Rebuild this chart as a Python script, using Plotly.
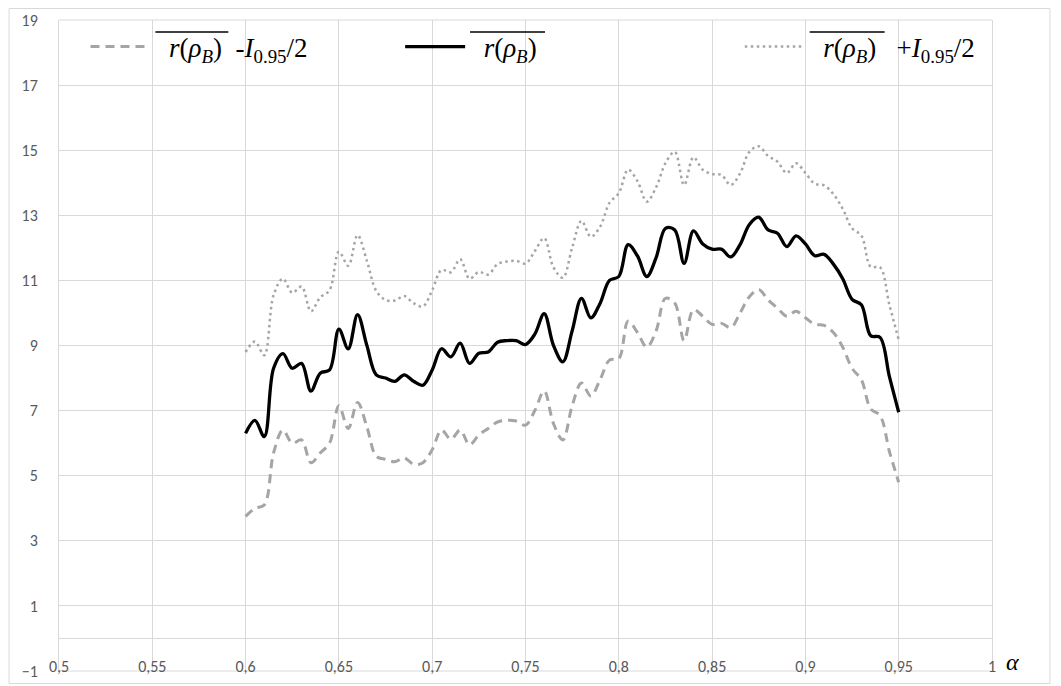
import plotly.graph_objects as go

# ---- data ----
alpha = [round(0.6 + 0.005 * i, 3) for i in range(71)]

mean_r = [6.30, 6.70, 6.20, 8.30, 8.75, 8.30, 8.45, 7.60, 8.15, 8.25,
          9.50, 8.90, 9.95, 9.00, 8.10, 8.00, 7.90, 8.10, 7.90, 7.78,
          8.25, 8.90, 8.65, 9.07, 8.45, 8.76, 8.80, 9.10, 9.15, 9.15,
          9.03, 9.35, 9.98, 9.00, 8.50, 9.45, 10.45, 9.85, 10.30, 11.00,
          11.12, 12.10, 11.75, 11.12, 11.70, 12.60, 12.55, 11.52, 12.52, 12.12,
          11.96, 11.96, 11.72, 12.10, 12.72, 12.94, 12.55, 12.45, 12.04, 12.37,
          12.12, 11.76, 11.80, 11.50, 11.05, 10.42, 10.25, 9.30, 9.25, 8.05,
          6.95]

upper_r = [8.80, 9.12, 8.70, 10.55, 11.05, 10.62, 10.81, 10.05, 10.48, 10.70,
           11.88, 11.45, 12.39, 11.60, 10.68, 10.40, 10.38, 10.52, 10.30, 10.20,
           10.70, 11.32, 11.25, 11.65, 11.05, 11.26, 11.18, 11.50, 11.58, 11.60,
           11.52, 11.90, 12.30, 11.40, 11.08, 12.00, 12.83, 12.34, 12.65, 13.38,
           13.68, 14.40, 14.05, 13.42, 13.86, 14.60, 14.95, 13.93, 14.78, 14.40,
           14.27, 14.24, 13.93, 14.29, 14.95, 15.12, 14.82, 14.65, 14.30, 14.60,
           14.30, 13.97, 13.92, 13.65, 13.20, 12.60, 12.38, 11.42, 11.40, 10.25,
           9.18]

lower_r = [3.75, 4.00, 4.10, 5.70, 6.40, 6.00, 6.10, 5.40, 5.70, 6.00,
           7.15, 6.45, 7.25, 6.50, 5.60, 5.50, 5.43, 5.55, 5.35, 5.40,
           5.80, 6.40, 6.12, 6.40, 5.95, 6.25, 6.45, 6.65, 6.70, 6.68,
           6.55, 7.00, 7.60, 6.60, 6.10, 7.15, 7.85, 7.45, 7.95, 8.55,
           8.60, 9.75, 9.40, 8.95, 9.45, 10.45, 10.30, 9.15, 10.10, 9.90,
           9.65, 9.68, 9.55, 10.00, 10.50, 10.72, 10.40, 10.15, 9.90, 10.05,
           9.85, 9.65, 9.62, 9.40, 8.95, 8.30, 7.95, 7.05, 6.85, 5.75,
           4.80]

x_tickvals = [0.5, 0.55, 0.6, 0.65, 0.7, 0.75, 0.8, 0.85, 0.9, 0.95, 1.0]
x_ticktext = ["0,5", "0,55", "0,6", "0,65", "0,7", "0,75", "0,8", "0,85", "0,9", "0,95", "1"]
y_tickvals = [-1, 1, 3, 5, 7, 9, 11, 13, 15, 17, 19]

rbar = '  <i>r</i>(<i>ρ<sub>B</sub></i>)  '
names = [rbar + '-<i>I</i><sub>0.95</sub>/2',
         rbar,
         rbar + ' +<i>I</i><sub>0.95</sub>/2']

GRID = "#D9D9D9"
GRAY = "#A5A5A5"
TICKFONT = dict(family="Carlito, Liberation Sans Narrow, Liberation Sans, sans-serif",
                size=16, color="#595959")
LEGFONT = dict(family="Liberation Serif, serif", size=27, color="black")

# page body has an 8px margin: work in screen pixels, convert to figure pixels
OFF = 8
W, H = 1045, 678
L, T = 58.5 - OFF, 20 - OFF
R = W - (992.5 - OFF)
B = H - (671 - OFF)
pw, ph = W - L - R, H - T - B


def px_x(p):
    return (p - OFF - L) / pw


def px_y(p):
    return 1 - (p - OFF - T) / ph


fig = go.Figure()
fig.add_trace(go.Scatter(x=alpha, y=lower_r, mode="lines", name=names[0], legend="legend",
                         line=dict(color=GRAY, width=3, dash="9px,6px", shape="spline")))
fig.add_trace(go.Scatter(x=alpha, y=mean_r, mode="lines", name=names[1], legend="legend2",
                         line=dict(color="black", width=3.3, shape="spline")))
fig.add_trace(go.Scatter(x=alpha, y=upper_r, mode="lines", name=names[2], legend="legend3",
                         line=dict(color=GRAY, width=2.5, dash="2.5px,3.5px", shape="spline")))

leg_common = dict(xanchor="left", yanchor="middle", y=px_y(47), bgcolor="rgba(0,0,0,0)",
                  font=LEGFONT, itemwidth=60)

overlines = [(155, 228), (470, 545), (810, 885)]

fig.update_layout(
    width=W, height=H,
    margin=dict(l=L, r=R, t=T, b=B),
    paper_bgcolor="white", plot_bgcolor="white",
    showlegend=True,
    legend=dict(x=px_x(85), **leg_common),
    legend2=dict(x=px_x(400), **leg_common),
    legend3=dict(x=px_x(740), **leg_common),
    xaxis=dict(range=[0.5, 1.0], tickvals=x_tickvals, ticktext=x_ticktext, automargin=False,
               showgrid=True, gridcolor=GRID, gridwidth=1, zeroline=False,
               anchor="free", position=0.05, showline=True, linecolor=GRID, linewidth=1,
               ticks="outside", ticklen=13, tickcolor="rgba(0,0,0,0)", tickfont=TICKFONT,
               ticklabeloverflow="allow"),
    yaxis=dict(range=[-1, 19], tickvals=y_tickvals, showgrid=True, gridcolor=GRID,
               automargin=False, gridwidth=1, zeroline=False, showline=True, mirror=True,
               linecolor=GRID, ticks="outside", ticklen=17, tickcolor="rgba(0,0,0,0)",
               tickfont=TICKFONT, ticklabeloverflow="allow"),
    annotations=[dict(x=1.0, y=0, xref="x", yref="y", text="<i>α</i>", showarrow=False,
                      xanchor="left", yanchor="middle", xshift=12, yshift=-24,
                      font=dict(family="Liberation Serif, serif", size=24, color="black"))],
    shapes=[
        dict(type="rect", xref="paper", yref="paper",
             x0=px_x(8.5), x1=px_x(1050.5), y0=px_y(683.5), y1=px_y(8.5),
             line=dict(color=GRID, width=1), layer="below"),
        dict(type="line", xref="paper", yref="paper", x0=0, x1=1, y0=0, y1=0,
             line=dict(color=GRID, width=1), layer="below"),
        dict(type="line", xref="paper", yref="paper", x0=0, x1=1, y0=1, y1=1,
             line=dict(color=GRID, width=1), layer="below"),
    ] + [
        dict(type="line", xref="paper", yref="paper", x0=px_x(a), x1=px_x(b),
             y0=px_y(32), y1=px_y(32), line=dict(color="black", width=1.5))
        for a, b in overlines
    ],
)

fig.write_html("out.html")
